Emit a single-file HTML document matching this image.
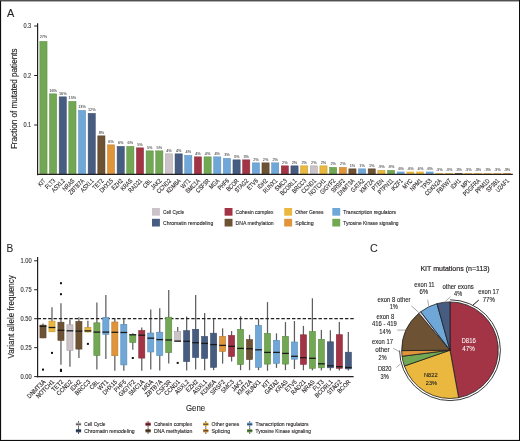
<!DOCTYPE html>
<html><head><meta charset="utf-8"><style>
html,body{margin:0;padding:0;background:#fff;}
svg{display:block;will-change:transform;}
</style></head><body>
<svg width="520" height="441" viewBox="0 0 520 441" font-family="Liberation Sans, sans-serif">
<rect x="0" y="0" width="520" height="441" fill="#fff"/>
<text x="6.90" y="16.60" font-size="11.2" text-anchor="start" fill="#231f20" stroke="#231f20" stroke-width="0.11"  textLength="7.30" lengthAdjust="spacingAndGlyphs">A</text>
<rect x="39.85" y="41.35" width="7.20" height="133.25" fill="#72a854" stroke="#5f8d46" stroke-width="0.5"/>
<text x="43.45" y="37.70" font-size="3.8" text-anchor="middle" fill="#3a3a3a" stroke="#3a3a3a" stroke-width="0.11" stroke-opacity="0.4">27%</text>
<text transform="translate(46.05,181.30) rotate(-45)" font-size="6.4" text-anchor="end" fill="#231f20" stroke="#231f20" stroke-width="0.1" textLength="8.01" lengthAdjust="spacingAndGlyphs">KIT</text>
<rect x="49.51" y="93.85" width="7.20" height="80.75" fill="#72a854" stroke="#5f8d46" stroke-width="0.5"/>
<text x="53.11" y="91.70" font-size="3.8" text-anchor="middle" fill="#3a3a3a" stroke="#3a3a3a" stroke-width="0.11" stroke-opacity="0.4">16%</text>
<text transform="translate(55.71,181.30) rotate(-45)" font-size="6.4" text-anchor="end" fill="#231f20" stroke="#231f20" stroke-width="0.1" textLength="11.64" lengthAdjust="spacingAndGlyphs">FLT3</text>
<rect x="59.16" y="96.85" width="7.20" height="77.75" fill="#465c80" stroke="#3a4d6b" stroke-width="0.5"/>
<text x="62.76" y="94.70" font-size="3.8" text-anchor="middle" fill="#3a3a3a" stroke="#3a3a3a" stroke-width="0.11" stroke-opacity="0.4">16%</text>
<text transform="translate(65.36,181.30) rotate(-45)" font-size="6.4" text-anchor="end" fill="#231f20" stroke="#231f20" stroke-width="0.1" textLength="16.04" lengthAdjust="spacingAndGlyphs">ASXL2</text>
<rect x="68.82" y="101.35" width="7.20" height="73.25" fill="#72a854" stroke="#5f8d46" stroke-width="0.5"/>
<text x="72.42" y="99.20" font-size="3.8" text-anchor="middle" fill="#3a3a3a" stroke="#3a3a3a" stroke-width="0.11" stroke-opacity="0.4">15%</text>
<text transform="translate(75.02,181.30) rotate(-45)" font-size="6.4" text-anchor="end" fill="#231f20" stroke="#231f20" stroke-width="0.1" textLength="14.31" lengthAdjust="spacingAndGlyphs">NRAS</text>
<rect x="78.47" y="110.35" width="7.20" height="64.25" fill="#6fa8d8" stroke="#5d8db5" stroke-width="0.5"/>
<text x="82.07" y="108.20" font-size="3.8" text-anchor="middle" fill="#3a3a3a" stroke="#3a3a3a" stroke-width="0.11" stroke-opacity="0.4">13%</text>
<text transform="translate(84.67,181.30) rotate(-45)" font-size="6.4" text-anchor="end" fill="#231f20" stroke="#231f20" stroke-width="0.1" textLength="19.47" lengthAdjust="spacingAndGlyphs">ZBTB7A</text>
<rect x="88.13" y="113.35" width="7.20" height="61.25" fill="#465c80" stroke="#3a4d6b" stroke-width="0.5"/>
<text x="91.73" y="111.20" font-size="3.8" text-anchor="middle" fill="#3a3a3a" stroke="#3a3a3a" stroke-width="0.11" stroke-opacity="0.4">12%</text>
<text transform="translate(94.33,181.30) rotate(-45)" font-size="6.4" text-anchor="end" fill="#231f20" stroke="#231f20" stroke-width="0.1" textLength="16.04" lengthAdjust="spacingAndGlyphs">ASXL1</text>
<rect x="97.79" y="135.85" width="7.20" height="38.75" fill="#6e5234" stroke="#5c442b" stroke-width="0.5"/>
<text x="101.39" y="133.70" font-size="3.8" text-anchor="middle" fill="#3a3a3a" stroke="#3a3a3a" stroke-width="0.11" stroke-opacity="0.4">8%</text>
<text transform="translate(103.99,181.30) rotate(-45)" font-size="6.4" text-anchor="end" fill="#231f20" stroke="#231f20" stroke-width="0.1" textLength="12.60" lengthAdjust="spacingAndGlyphs">TET2</text>
<rect x="107.44" y="144.85" width="7.20" height="29.75" fill="#e0953a" stroke="#bc7d30" stroke-width="0.5"/>
<text x="111.04" y="142.70" font-size="3.8" text-anchor="middle" fill="#3a3a3a" stroke="#3a3a3a" stroke-width="0.11" stroke-opacity="0.4">6%</text>
<text transform="translate(113.64,181.30) rotate(-45)" font-size="6.4" text-anchor="end" fill="#231f20" stroke="#231f20" stroke-width="0.1" textLength="16.61" lengthAdjust="spacingAndGlyphs">DHX15</text>
<rect x="117.10" y="146.35" width="7.20" height="28.25" fill="#465c80" stroke="#3a4d6b" stroke-width="0.5"/>
<text x="120.70" y="144.20" font-size="3.8" text-anchor="middle" fill="#3a3a3a" stroke="#3a3a3a" stroke-width="0.11" stroke-opacity="0.4">6%</text>
<text transform="translate(123.30,181.30) rotate(-45)" font-size="6.4" text-anchor="end" fill="#231f20" stroke="#231f20" stroke-width="0.1" textLength="13.17" lengthAdjust="spacingAndGlyphs">EZH2</text>
<rect x="126.75" y="146.35" width="7.20" height="28.25" fill="#72a854" stroke="#5f8d46" stroke-width="0.5"/>
<text x="130.35" y="144.20" font-size="3.8" text-anchor="middle" fill="#3a3a3a" stroke="#3a3a3a" stroke-width="0.11" stroke-opacity="0.4">6%</text>
<text transform="translate(132.95,181.30) rotate(-45)" font-size="6.4" text-anchor="end" fill="#231f20" stroke="#231f20" stroke-width="0.1" textLength="14.03" lengthAdjust="spacingAndGlyphs">KRAS</text>
<rect x="136.41" y="147.85" width="7.20" height="26.75" fill="#a33446" stroke="#882b3a" stroke-width="0.5"/>
<text x="140.01" y="145.70" font-size="3.8" text-anchor="middle" fill="#3a3a3a" stroke="#3a3a3a" stroke-width="0.11" stroke-opacity="0.4">5%</text>
<text transform="translate(142.61,181.30) rotate(-45)" font-size="6.4" text-anchor="end" fill="#231f20" stroke="#231f20" stroke-width="0.1" textLength="16.61" lengthAdjust="spacingAndGlyphs">RAD21</text>
<rect x="146.07" y="150.85" width="7.20" height="23.75" fill="#72a854" stroke="#5f8d46" stroke-width="0.5"/>
<text x="149.67" y="148.70" font-size="3.8" text-anchor="middle" fill="#3a3a3a" stroke="#3a3a3a" stroke-width="0.11" stroke-opacity="0.4">5%</text>
<text transform="translate(152.27,181.30) rotate(-45)" font-size="6.4" text-anchor="end" fill="#231f20" stroke="#231f20" stroke-width="0.1" textLength="10.02" lengthAdjust="spacingAndGlyphs">CBL</text>
<rect x="155.72" y="150.85" width="7.20" height="23.75" fill="#72a854" stroke="#5f8d46" stroke-width="0.5"/>
<text x="159.32" y="148.70" font-size="3.8" text-anchor="middle" fill="#3a3a3a" stroke="#3a3a3a" stroke-width="0.11" stroke-opacity="0.4">5%</text>
<text transform="translate(161.92,181.30) rotate(-45)" font-size="6.4" text-anchor="end" fill="#231f20" stroke="#231f20" stroke-width="0.1" textLength="12.31" lengthAdjust="spacingAndGlyphs">JAK2</text>
<rect x="165.38" y="153.85" width="7.20" height="20.75" fill="#cbc3c7" stroke="#aaa3a7" stroke-width="0.5"/>
<text x="168.98" y="151.70" font-size="3.8" text-anchor="middle" fill="#3a3a3a" stroke="#3a3a3a" stroke-width="0.11" stroke-opacity="0.4">4%</text>
<text transform="translate(171.58,181.30) rotate(-45)" font-size="6.4" text-anchor="end" fill="#231f20" stroke="#231f20" stroke-width="0.1" textLength="17.75" lengthAdjust="spacingAndGlyphs">CCND2</text>
<rect x="175.03" y="153.85" width="7.20" height="20.75" fill="#465c80" stroke="#3a4d6b" stroke-width="0.5"/>
<text x="178.63" y="151.70" font-size="3.8" text-anchor="middle" fill="#3a3a3a" stroke="#3a3a3a" stroke-width="0.11" stroke-opacity="0.4">4%</text>
<text transform="translate(181.23,181.30) rotate(-45)" font-size="6.4" text-anchor="end" fill="#231f20" stroke="#231f20" stroke-width="0.1" textLength="17.75" lengthAdjust="spacingAndGlyphs">KDM6A</text>
<rect x="184.69" y="155.35" width="7.20" height="19.25" fill="#6fa8d8" stroke="#5d8db5" stroke-width="0.5"/>
<text x="188.29" y="153.20" font-size="3.8" text-anchor="middle" fill="#3a3a3a" stroke="#3a3a3a" stroke-width="0.11" stroke-opacity="0.4">4%</text>
<text transform="translate(190.89,181.30) rotate(-45)" font-size="6.4" text-anchor="end" fill="#231f20" stroke="#231f20" stroke-width="0.1" textLength="10.87" lengthAdjust="spacingAndGlyphs">WT1</text>
<rect x="194.35" y="156.85" width="7.20" height="17.75" fill="#a33446" stroke="#882b3a" stroke-width="0.5"/>
<text x="197.95" y="154.70" font-size="3.8" text-anchor="middle" fill="#3a3a3a" stroke="#3a3a3a" stroke-width="0.11" stroke-opacity="0.4">4%</text>
<text transform="translate(200.55,181.30) rotate(-45)" font-size="6.4" text-anchor="end" fill="#231f20" stroke="#231f20" stroke-width="0.1" textLength="17.75" lengthAdjust="spacingAndGlyphs">SMC1A</text>
<rect x="204.00" y="156.85" width="7.20" height="17.75" fill="#72a854" stroke="#5f8d46" stroke-width="0.5"/>
<text x="207.60" y="154.70" font-size="3.8" text-anchor="middle" fill="#3a3a3a" stroke="#3a3a3a" stroke-width="0.11" stroke-opacity="0.4">4%</text>
<text transform="translate(210.20,181.30) rotate(-45)" font-size="6.4" text-anchor="end" fill="#231f20" stroke="#231f20" stroke-width="0.1" textLength="16.89" lengthAdjust="spacingAndGlyphs">CSF3R</text>
<rect x="213.66" y="156.85" width="7.20" height="17.75" fill="#6fa8d8" stroke="#5d8db5" stroke-width="0.5"/>
<text x="217.26" y="154.70" font-size="3.8" text-anchor="middle" fill="#3a3a3a" stroke="#3a3a3a" stroke-width="0.11" stroke-opacity="0.4">4%</text>
<text transform="translate(219.86,181.30) rotate(-45)" font-size="6.4" text-anchor="end" fill="#231f20" stroke="#231f20" stroke-width="0.1" textLength="11.74" lengthAdjust="spacingAndGlyphs">MGA</text>
<rect x="223.31" y="158.35" width="7.20" height="16.25" fill="#6fa8d8" stroke="#5d8db5" stroke-width="0.5"/>
<text x="226.91" y="156.20" font-size="3.8" text-anchor="middle" fill="#3a3a3a" stroke="#3a3a3a" stroke-width="0.11" stroke-opacity="0.4">3%</text>
<text transform="translate(229.51,181.30) rotate(-45)" font-size="6.4" text-anchor="end" fill="#231f20" stroke="#231f20" stroke-width="0.1" textLength="13.17" lengthAdjust="spacingAndGlyphs">PHF6</text>
<rect x="232.97" y="159.85" width="7.20" height="14.75" fill="#465c80" stroke="#3a4d6b" stroke-width="0.5"/>
<text x="236.57" y="157.70" font-size="3.8" text-anchor="middle" fill="#3a3a3a" stroke="#3a3a3a" stroke-width="0.11" stroke-opacity="0.4">3%</text>
<text transform="translate(239.17,181.30) rotate(-45)" font-size="6.4" text-anchor="end" fill="#231f20" stroke="#231f20" stroke-width="0.1" textLength="14.89" lengthAdjust="spacingAndGlyphs">BCOR</text>
<rect x="242.63" y="159.85" width="7.20" height="14.75" fill="#a33446" stroke="#882b3a" stroke-width="0.5"/>
<text x="246.23" y="157.70" font-size="3.8" text-anchor="middle" fill="#3a3a3a" stroke="#3a3a3a" stroke-width="0.11" stroke-opacity="0.4">3%</text>
<text transform="translate(248.83,181.30) rotate(-45)" font-size="6.4" text-anchor="end" fill="#231f20" stroke="#231f20" stroke-width="0.1" textLength="16.51" lengthAdjust="spacingAndGlyphs">STAG2</text>
<rect x="252.28" y="162.85" width="7.20" height="11.75" fill="#6fa8d8" stroke="#5d8db5" stroke-width="0.5"/>
<text x="255.88" y="160.70" font-size="3.8" text-anchor="middle" fill="#3a3a3a" stroke="#3a3a3a" stroke-width="0.11" stroke-opacity="0.4">2%</text>
<text transform="translate(258.48,181.30) rotate(-45)" font-size="6.4" text-anchor="end" fill="#231f20" stroke="#231f20" stroke-width="0.1" textLength="12.88" lengthAdjust="spacingAndGlyphs">ETV6</text>
<rect x="261.94" y="162.85" width="7.20" height="11.75" fill="#6e5234" stroke="#5c442b" stroke-width="0.5"/>
<text x="265.54" y="160.70" font-size="3.8" text-anchor="middle" fill="#3a3a3a" stroke="#3a3a3a" stroke-width="0.11" stroke-opacity="0.4">2%</text>
<text transform="translate(268.14,181.30) rotate(-45)" font-size="6.4" text-anchor="end" fill="#231f20" stroke="#231f20" stroke-width="0.1" textLength="11.74" lengthAdjust="spacingAndGlyphs">IDH2</text>
<rect x="271.59" y="162.85" width="7.20" height="11.75" fill="#6fa8d8" stroke="#5d8db5" stroke-width="0.5"/>
<text x="275.19" y="160.70" font-size="3.8" text-anchor="middle" fill="#3a3a3a" stroke="#3a3a3a" stroke-width="0.11" stroke-opacity="0.4">2%</text>
<text transform="translate(277.79,181.30) rotate(-45)" font-size="6.4" text-anchor="end" fill="#231f20" stroke="#231f20" stroke-width="0.1" textLength="17.46" lengthAdjust="spacingAndGlyphs">RUNX1</text>
<rect x="281.25" y="165.85" width="7.20" height="8.75" fill="#a33446" stroke="#882b3a" stroke-width="0.5"/>
<text x="284.85" y="163.70" font-size="3.8" text-anchor="middle" fill="#3a3a3a" stroke="#3a3a3a" stroke-width="0.11" stroke-opacity="0.4">2%</text>
<text transform="translate(287.45,181.30) rotate(-45)" font-size="6.4" text-anchor="end" fill="#231f20" stroke="#231f20" stroke-width="0.1" textLength="14.31" lengthAdjust="spacingAndGlyphs">SMC3</text>
<rect x="290.91" y="165.85" width="7.20" height="8.75" fill="#465c80" stroke="#3a4d6b" stroke-width="0.5"/>
<text x="294.51" y="163.70" font-size="3.8" text-anchor="middle" fill="#3a3a3a" stroke="#3a3a3a" stroke-width="0.11" stroke-opacity="0.4">2%</text>
<text transform="translate(297.11,181.30) rotate(-45)" font-size="6.4" text-anchor="end" fill="#231f20" stroke="#231f20" stroke-width="0.1" textLength="20.62" lengthAdjust="spacingAndGlyphs">BCORL1</text>
<rect x="300.56" y="165.85" width="7.20" height="8.75" fill="#eab83e" stroke="#c49a34" stroke-width="0.5"/>
<text x="304.16" y="163.70" font-size="3.8" text-anchor="middle" fill="#3a3a3a" stroke="#3a3a3a" stroke-width="0.11" stroke-opacity="0.4">2%</text>
<text transform="translate(306.76,181.30) rotate(-45)" font-size="6.4" text-anchor="end" fill="#231f20" stroke="#231f20" stroke-width="0.1" textLength="17.46" lengthAdjust="spacingAndGlyphs">BRCC3</text>
<rect x="310.22" y="165.85" width="7.20" height="8.75" fill="#cbc3c7" stroke="#aaa3a7" stroke-width="0.5"/>
<text x="313.82" y="163.70" font-size="3.8" text-anchor="middle" fill="#3a3a3a" stroke="#3a3a3a" stroke-width="0.11" stroke-opacity="0.4">2%</text>
<text transform="translate(316.42,181.30) rotate(-45)" font-size="6.4" text-anchor="end" fill="#231f20" stroke="#231f20" stroke-width="0.1" textLength="17.75" lengthAdjust="spacingAndGlyphs">CCND1</text>
<rect x="319.87" y="165.85" width="7.20" height="8.75" fill="#eab83e" stroke="#c49a34" stroke-width="0.5"/>
<text x="323.47" y="163.70" font-size="3.8" text-anchor="middle" fill="#3a3a3a" stroke="#3a3a3a" stroke-width="0.11" stroke-opacity="0.4">2%</text>
<text transform="translate(326.07,181.30) rotate(-45)" font-size="6.4" text-anchor="end" fill="#231f20" stroke="#231f20" stroke-width="0.1" textLength="21.18" lengthAdjust="spacingAndGlyphs">NOTCH1</text>
<rect x="329.53" y="167.35" width="7.20" height="7.25" fill="#72a854" stroke="#5f8d46" stroke-width="0.5"/>
<text x="333.13" y="165.20" font-size="3.8" text-anchor="middle" fill="#3a3a3a" stroke="#3a3a3a" stroke-width="0.11" stroke-opacity="0.4">2%</text>
<text transform="translate(335.73,181.30) rotate(-45)" font-size="6.4" text-anchor="end" fill="#231f20" stroke="#231f20" stroke-width="0.1" textLength="18.89" lengthAdjust="spacingAndGlyphs">GIGYF2</text>
<rect x="339.19" y="167.35" width="7.20" height="7.25" fill="#e0953a" stroke="#bc7d30" stroke-width="0.5"/>
<text x="342.79" y="165.20" font-size="3.8" text-anchor="middle" fill="#3a3a3a" stroke="#3a3a3a" stroke-width="0.11" stroke-opacity="0.4">2%</text>
<text transform="translate(345.39,181.30) rotate(-45)" font-size="6.4" text-anchor="end" fill="#231f20" stroke="#231f20" stroke-width="0.1" textLength="16.61" lengthAdjust="spacingAndGlyphs">SRSF2</text>
<rect x="348.84" y="168.85" width="7.20" height="5.75" fill="#6e5234" stroke="#5c442b" stroke-width="0.5"/>
<text x="352.44" y="166.70" font-size="3.8" text-anchor="middle" fill="#3a3a3a" stroke="#3a3a3a" stroke-width="0.11" stroke-opacity="0.4">1%</text>
<text transform="translate(355.04,181.30) rotate(-45)" font-size="6.4" text-anchor="end" fill="#231f20" stroke="#231f20" stroke-width="0.1" textLength="21.18" lengthAdjust="spacingAndGlyphs">DNMT3A</text>
<rect x="358.50" y="168.85" width="7.20" height="5.75" fill="#6fa8d8" stroke="#5d8db5" stroke-width="0.5"/>
<text x="362.10" y="166.70" font-size="3.8" text-anchor="middle" fill="#3a3a3a" stroke="#3a3a3a" stroke-width="0.11" stroke-opacity="0.4">1%</text>
<text transform="translate(364.70,181.30) rotate(-45)" font-size="6.4" text-anchor="end" fill="#231f20" stroke="#231f20" stroke-width="0.1" textLength="16.13" lengthAdjust="spacingAndGlyphs">GATA2</text>
<rect x="368.15" y="168.85" width="7.20" height="5.75" fill="#6e5234" stroke="#5c442b" stroke-width="0.5"/>
<text x="371.75" y="166.70" font-size="3.8" text-anchor="middle" fill="#3a3a3a" stroke="#3a3a3a" stroke-width="0.11" stroke-opacity="0.4">1%</text>
<text transform="translate(374.35,181.30) rotate(-45)" font-size="6.4" text-anchor="end" fill="#231f20" stroke="#231f20" stroke-width="0.1" textLength="17.18" lengthAdjust="spacingAndGlyphs">KMT2A</text>
<rect x="377.81" y="170.35" width="7.20" height="4.25" fill="#eab83e" stroke="#c49a34" stroke-width="0.5"/>
<text x="381.41" y="168.20" font-size="3.8" text-anchor="middle" fill="#3a3a3a" stroke="#3a3a3a" stroke-width="0.11" stroke-opacity="0.4">.9%</text>
<text transform="translate(384.01,181.30) rotate(-45)" font-size="6.4" text-anchor="end" fill="#231f20" stroke="#231f20" stroke-width="0.1" textLength="13.74" lengthAdjust="spacingAndGlyphs">PTEN</text>
<rect x="387.47" y="170.35" width="7.20" height="4.25" fill="#72a854" stroke="#5f8d46" stroke-width="0.5"/>
<text x="391.07" y="168.20" font-size="3.8" text-anchor="middle" fill="#3a3a3a" stroke="#3a3a3a" stroke-width="0.11" stroke-opacity="0.4">.9%</text>
<text transform="translate(393.67,181.30) rotate(-45)" font-size="6.4" text-anchor="end" fill="#231f20" stroke="#231f20" stroke-width="0.1" textLength="19.09" lengthAdjust="spacingAndGlyphs">PTPN11</text>
<rect x="396.87" y="171.60" width="7.70" height="3.00" fill="#6fa8d8"/>
<text x="400.72" y="169.70" font-size="3.8" text-anchor="middle" fill="#3a3a3a" stroke="#3a3a3a" stroke-width="0.11" stroke-opacity="0.4">.6%</text>
<text transform="translate(403.32,181.30) rotate(-45)" font-size="6.4" text-anchor="end" fill="#231f20" stroke="#231f20" stroke-width="0.1" textLength="14.03" lengthAdjust="spacingAndGlyphs">IKZF1</text>
<rect x="406.53" y="171.60" width="7.70" height="3.00" fill="#eab83e"/>
<text x="410.38" y="169.70" font-size="3.8" text-anchor="middle" fill="#3a3a3a" stroke="#3a3a3a" stroke-width="0.11" stroke-opacity="0.4">.6%</text>
<text transform="translate(412.98,181.30) rotate(-45)" font-size="6.4" text-anchor="end" fill="#231f20" stroke="#231f20" stroke-width="0.1" textLength="11.45" lengthAdjust="spacingAndGlyphs">MYC</text>
<rect x="416.18" y="171.60" width="7.70" height="3.00" fill="#eab83e"/>
<text x="420.03" y="169.70" font-size="3.8" text-anchor="middle" fill="#3a3a3a" stroke="#3a3a3a" stroke-width="0.11" stroke-opacity="0.4">.6%</text>
<text transform="translate(422.63,181.30) rotate(-45)" font-size="6.4" text-anchor="end" fill="#231f20" stroke="#231f20" stroke-width="0.1" textLength="14.31" lengthAdjust="spacingAndGlyphs">NPM1</text>
<rect x="425.84" y="171.60" width="7.70" height="3.00" fill="#6fa8d8"/>
<text x="429.69" y="169.70" font-size="3.8" text-anchor="middle" fill="#3a3a3a" stroke="#3a3a3a" stroke-width="0.11" stroke-opacity="0.4">.6%</text>
<text transform="translate(432.29,181.30) rotate(-45)" font-size="6.4" text-anchor="end" fill="#231f20" stroke="#231f20" stroke-width="0.1" textLength="12.31" lengthAdjust="spacingAndGlyphs">TP53</text>
<rect x="435.50" y="173.10" width="7.70" height="1.50" fill="#eab83e"/>
<text x="439.35" y="171.20" font-size="3.8" text-anchor="middle" fill="#3a3a3a" stroke="#3a3a3a" stroke-width="0.11" stroke-opacity="0.4">.3%</text>
<text transform="translate(441.95,181.30) rotate(-45)" font-size="6.4" text-anchor="end" fill="#231f20" stroke="#231f20" stroke-width="0.1" textLength="20.90" lengthAdjust="spacingAndGlyphs">CDKN2A</text>
<rect x="445.15" y="173.10" width="7.70" height="1.50" fill="#eab83e"/>
<text x="449.00" y="171.20" font-size="3.8" text-anchor="middle" fill="#3a3a3a" stroke="#3a3a3a" stroke-width="0.11" stroke-opacity="0.4">.3%</text>
<text transform="translate(451.60,181.30) rotate(-45)" font-size="6.4" text-anchor="end" fill="#231f20" stroke="#231f20" stroke-width="0.1" textLength="17.75" lengthAdjust="spacingAndGlyphs">FBXW7</text>
<rect x="454.81" y="173.10" width="7.70" height="1.50" fill="#6e5234"/>
<text x="458.66" y="171.20" font-size="3.8" text-anchor="middle" fill="#3a3a3a" stroke="#3a3a3a" stroke-width="0.11" stroke-opacity="0.4">.3%</text>
<text transform="translate(461.26,181.30) rotate(-45)" font-size="6.4" text-anchor="end" fill="#231f20" stroke="#231f20" stroke-width="0.1" textLength="11.74" lengthAdjust="spacingAndGlyphs">IDH1</text>
<rect x="464.46" y="173.10" width="7.70" height="1.50" fill="#eab83e"/>
<text x="468.31" y="171.20" font-size="3.8" text-anchor="middle" fill="#3a3a3a" stroke="#3a3a3a" stroke-width="0.11" stroke-opacity="0.4">.3%</text>
<text transform="translate(470.91,181.30) rotate(-45)" font-size="6.4" text-anchor="end" fill="#231f20" stroke="#231f20" stroke-width="0.1" textLength="10.59" lengthAdjust="spacingAndGlyphs">MPL</text>
<rect x="474.12" y="173.10" width="7.70" height="1.50" fill="#eab83e"/>
<text x="477.97" y="171.20" font-size="3.8" text-anchor="middle" fill="#3a3a3a" stroke="#3a3a3a" stroke-width="0.11" stroke-opacity="0.4">.3%</text>
<text transform="translate(480.57,181.30) rotate(-45)" font-size="6.4" text-anchor="end" fill="#231f20" stroke="#231f20" stroke-width="0.1" textLength="21.47" lengthAdjust="spacingAndGlyphs">PDGFRA</text>
<rect x="483.78" y="173.10" width="7.70" height="1.50" fill="#eab83e"/>
<text x="487.63" y="171.20" font-size="3.8" text-anchor="middle" fill="#3a3a3a" stroke="#3a3a3a" stroke-width="0.11" stroke-opacity="0.4">.3%</text>
<text transform="translate(490.23,181.30) rotate(-45)" font-size="6.4" text-anchor="end" fill="#231f20" stroke="#231f20" stroke-width="0.1" textLength="17.75" lengthAdjust="spacingAndGlyphs">PPM1D</text>
<rect x="493.43" y="173.10" width="7.70" height="1.50" fill="#eab83e"/>
<text x="497.28" y="171.20" font-size="3.8" text-anchor="middle" fill="#3a3a3a" stroke="#3a3a3a" stroke-width="0.11" stroke-opacity="0.4">.3%</text>
<text transform="translate(499.88,181.30) rotate(-45)" font-size="6.4" text-anchor="end" fill="#231f20" stroke="#231f20" stroke-width="0.1" textLength="15.75" lengthAdjust="spacingAndGlyphs">SF3B1</text>
<rect x="503.09" y="173.10" width="7.70" height="1.50" fill="#e0953a"/>
<text x="506.94" y="171.20" font-size="3.8" text-anchor="middle" fill="#3a3a3a" stroke="#3a3a3a" stroke-width="0.11" stroke-opacity="0.4">.3%</text>
<text transform="translate(509.54,181.30) rotate(-45)" font-size="6.4" text-anchor="end" fill="#231f20" stroke="#231f20" stroke-width="0.1" textLength="16.03" lengthAdjust="spacingAndGlyphs">U2AF1</text>
<line x1="37.6" y1="23.2" x2="37.6" y2="175.2" stroke="#231f20" stroke-width="1.2"/>
<line x1="37" y1="174.4" x2="512.8" y2="174.4" stroke="#231f20" stroke-width="1.3"/>
<line x1="34.2" y1="26.0" x2="37.6" y2="26.0" stroke="#231f20" stroke-width="1"/>
<text x="31.20" y="28.40" font-size="6.8" text-anchor="end" fill="#333" stroke="#333" stroke-width="0.11"  textLength="7.80" lengthAdjust="spacingAndGlyphs">0.3</text>
<line x1="34.2" y1="75.5" x2="37.6" y2="75.5" stroke="#231f20" stroke-width="1"/>
<text x="31.20" y="77.90" font-size="6.8" text-anchor="end" fill="#333" stroke="#333" stroke-width="0.11"  textLength="7.80" lengthAdjust="spacingAndGlyphs">0.2</text>
<line x1="34.2" y1="125.0" x2="37.6" y2="125.0" stroke="#231f20" stroke-width="1"/>
<text x="31.20" y="127.40" font-size="6.8" text-anchor="end" fill="#333" stroke="#333" stroke-width="0.11"  textLength="7.80" lengthAdjust="spacingAndGlyphs">0.1</text>
<text transform="translate(17.2,98.8) rotate(-90)" font-size="9.2" text-anchor="middle" fill="#231f20" stroke="#231f20" stroke-width="0.15" textLength="100.6" lengthAdjust="spacingAndGlyphs">Fraction of mutated patients</text>
<rect x="152" y="208" width="7.9" height="7.7" fill="#cbc3c7"/>
<text x="163.00" y="213.80" font-size="5.4" text-anchor="start" fill="#231f20" stroke="#231f20" stroke-width="0.11"  textLength="21.10" lengthAdjust="spacingAndGlyphs">Cell Cycle</text>
<rect x="152" y="218.8" width="7.9" height="7.7" fill="#465c80"/>
<text x="163.00" y="224.60" font-size="5.4" text-anchor="start" fill="#231f20" stroke="#231f20" stroke-width="0.11"  textLength="50.30" lengthAdjust="spacingAndGlyphs">Chromatin remodeling</text>
<rect x="224.6" y="208" width="7.9" height="7.7" fill="#a33446"/>
<text x="235.60" y="213.80" font-size="5.4" text-anchor="start" fill="#231f20" stroke="#231f20" stroke-width="0.11"  textLength="37.90" lengthAdjust="spacingAndGlyphs">Cohesin complex</text>
<rect x="224.6" y="218.8" width="7.9" height="7.7" fill="#6e5234"/>
<text x="235.60" y="224.60" font-size="5.4" text-anchor="start" fill="#231f20" stroke="#231f20" stroke-width="0.11"  textLength="38.00" lengthAdjust="spacingAndGlyphs">DNA methylation</text>
<rect x="284.2" y="208" width="7.9" height="7.7" fill="#eab83e"/>
<text x="295.20" y="213.80" font-size="5.4" text-anchor="start" fill="#231f20" stroke="#231f20" stroke-width="0.11"  textLength="28.30" lengthAdjust="spacingAndGlyphs">Other Genes</text>
<rect x="284.2" y="218.8" width="7.9" height="7.7" fill="#e0953a"/>
<text x="295.20" y="224.60" font-size="5.4" text-anchor="start" fill="#231f20" stroke="#231f20" stroke-width="0.11"  textLength="18.50" lengthAdjust="spacingAndGlyphs">Splicing</text>
<rect x="332.3" y="208" width="7.9" height="7.7" fill="#6fa8d8"/>
<text x="343.30" y="213.80" font-size="5.4" text-anchor="start" fill="#231f20" stroke="#231f20" stroke-width="0.11"  textLength="52.80" lengthAdjust="spacingAndGlyphs">Transcription regulators</text>
<rect x="332.3" y="218.8" width="7.9" height="7.7" fill="#72a854"/>
<text x="343.30" y="224.60" font-size="5.4" text-anchor="start" fill="#231f20" stroke="#231f20" stroke-width="0.11"  textLength="55.30" lengthAdjust="spacingAndGlyphs">Tyrosine Kinase signaling</text>
<text x="6.60" y="251.80" font-size="10.2" text-anchor="start" fill="#231f20" stroke="#231f20" stroke-width="0.11" style="stroke-width:0.06">B</text>
<line x1="43.00" y1="323.6" x2="43.00" y2="338.2" stroke="#5e5e5e" stroke-width="1.25"/>
<line x1="51.98" y1="307.2" x2="51.98" y2="332.1" stroke="#5e5e5e" stroke-width="1.25"/>
<line x1="60.96" y1="303.3" x2="60.96" y2="364.8" stroke="#5e5e5e" stroke-width="1.25"/>
<line x1="69.94" y1="319.4" x2="69.94" y2="366.7" stroke="#5e5e5e" stroke-width="1.25"/>
<line x1="78.92" y1="317.3" x2="78.92" y2="358.1" stroke="#5e5e5e" stroke-width="1.25"/>
<line x1="87.90" y1="320.8" x2="87.90" y2="332.3" stroke="#5e5e5e" stroke-width="1.25"/>
<line x1="96.88" y1="302.4" x2="96.88" y2="369.4" stroke="#5e5e5e" stroke-width="1.25"/>
<line x1="105.86" y1="295.0" x2="105.86" y2="359.0" stroke="#5e5e5e" stroke-width="1.25"/>
<line x1="114.84" y1="318.2" x2="114.84" y2="370.8" stroke="#5e5e5e" stroke-width="1.25"/>
<line x1="123.82" y1="318.5" x2="123.82" y2="370.8" stroke="#5e5e5e" stroke-width="1.25"/>
<line x1="132.80" y1="333.2" x2="132.80" y2="349.8" stroke="#5e5e5e" stroke-width="1.25"/>
<line x1="141.78" y1="327.5" x2="141.78" y2="370.8" stroke="#5e5e5e" stroke-width="1.25"/>
<line x1="150.76" y1="309.4" x2="150.76" y2="369.6" stroke="#5e5e5e" stroke-width="1.25"/>
<line x1="159.74" y1="308.2" x2="159.74" y2="370.5" stroke="#5e5e5e" stroke-width="1.25"/>
<line x1="168.72" y1="290.1" x2="168.72" y2="363.6" stroke="#5e5e5e" stroke-width="1.25"/>
<line x1="177.70" y1="326.9" x2="177.70" y2="341.7" stroke="#5e5e5e" stroke-width="1.25"/>
<line x1="186.68" y1="316.5" x2="186.68" y2="370.5" stroke="#5e5e5e" stroke-width="1.25"/>
<line x1="195.66" y1="295.0" x2="195.66" y2="369.6" stroke="#5e5e5e" stroke-width="1.25"/>
<line x1="204.64" y1="313.1" x2="204.64" y2="370.2" stroke="#5e5e5e" stroke-width="1.25"/>
<line x1="213.62" y1="319.1" x2="213.62" y2="370.2" stroke="#5e5e5e" stroke-width="1.25"/>
<line x1="222.60" y1="328.4" x2="222.60" y2="363.6" stroke="#5e5e5e" stroke-width="1.25"/>
<line x1="231.58" y1="331.0" x2="231.58" y2="361.5" stroke="#5e5e5e" stroke-width="1.25"/>
<line x1="240.56" y1="316.3" x2="240.56" y2="370.2" stroke="#5e5e5e" stroke-width="1.25"/>
<line x1="249.54" y1="334.8" x2="249.54" y2="370.2" stroke="#5e5e5e" stroke-width="1.25"/>
<line x1="258.52" y1="318.7" x2="258.52" y2="370.2" stroke="#5e5e5e" stroke-width="1.25"/>
<line x1="267.50" y1="302.1" x2="267.50" y2="370.8" stroke="#5e5e5e" stroke-width="1.25"/>
<line x1="276.48" y1="333.4" x2="276.48" y2="367.9" stroke="#5e5e5e" stroke-width="1.25"/>
<line x1="285.46" y1="322.1" x2="285.46" y2="370.2" stroke="#5e5e5e" stroke-width="1.25"/>
<line x1="294.44" y1="321.0" x2="294.44" y2="369.0" stroke="#5e5e5e" stroke-width="1.25"/>
<line x1="303.42" y1="325.9" x2="303.42" y2="370.3" stroke="#5e5e5e" stroke-width="1.25"/>
<line x1="312.40" y1="298.3" x2="312.40" y2="370.4" stroke="#5e5e5e" stroke-width="1.25"/>
<line x1="321.38" y1="330.0" x2="321.38" y2="370.4" stroke="#5e5e5e" stroke-width="1.25"/>
<line x1="330.36" y1="330.2" x2="330.36" y2="370.4" stroke="#5e5e5e" stroke-width="1.25"/>
<line x1="339.34" y1="321.9" x2="339.34" y2="370.4" stroke="#5e5e5e" stroke-width="1.25"/>
<line x1="348.32" y1="332.1" x2="348.32" y2="370.4" stroke="#5e5e5e" stroke-width="1.25"/>
<line x1="37.6" y1="318.7" x2="355" y2="318.7" stroke="#231f20" stroke-width="1.3" stroke-dasharray="3.4 1.9"/>
<rect x="39.95" y="325.10" width="6.10" height="12.80" fill="#6e5234" stroke="#5a432a" stroke-width="0.6"/>
<line x1="39.65" y1="326.3" x2="46.35" y2="326.3" stroke="#1a1a1a" stroke-width="1.3"/>
<rect x="42.00" y="368.60" width="2" height="2" fill="#111"/>
<text transform="translate(45.80,382.40) rotate(-45)" font-size="6.4" text-anchor="end" fill="#231f20" stroke="#231f20" stroke-width="0.1" textLength="23.02" lengthAdjust="spacingAndGlyphs">DNMT3A</text>
<rect x="48.93" y="321.10" width="6.10" height="10.70" fill="#eab83e" stroke="#bf9632" stroke-width="0.6"/>
<line x1="48.63" y1="327.5" x2="55.33" y2="327.5" stroke="#1a1a1a" stroke-width="1.3"/>
<rect x="50.98" y="351.90" width="2" height="2" fill="#111"/>
<text transform="translate(54.78,382.40) rotate(-45)" font-size="6.4" text-anchor="end" fill="#231f20" stroke="#231f20" stroke-width="0.1" textLength="23.02" lengthAdjust="spacingAndGlyphs">NOTCH1</text>
<rect x="57.91" y="322.20" width="6.10" height="18.10" fill="#6e5234" stroke="#5a432a" stroke-width="0.6"/>
<line x1="57.61" y1="330.3" x2="64.31" y2="330.3" stroke="#1a1a1a" stroke-width="1.3"/>
<rect x="59.96" y="282.20" width="2" height="2" fill="#111"/>
<rect x="59.96" y="293.20" width="2" height="2" fill="#111"/>
<rect x="59.96" y="368.80" width="2" height="2" fill="#111"/>
<rect x="59.96" y="370.00" width="2" height="2" fill="#111"/>
<text transform="translate(63.76,382.40) rotate(-45)" font-size="6.4" text-anchor="end" fill="#231f20" stroke="#231f20" stroke-width="0.1" textLength="13.69" lengthAdjust="spacingAndGlyphs">TET2</text>
<rect x="66.89" y="324.80" width="6.10" height="25.50" fill="#cbc3c7" stroke="#a69fa3" stroke-width="0.6"/>
<line x1="66.59" y1="330.8" x2="73.29" y2="330.8" stroke="#1a1a1a" stroke-width="1.3"/>
<text transform="translate(72.74,382.40) rotate(-45)" font-size="6.4" text-anchor="end" fill="#231f20" stroke="#231f20" stroke-width="0.1" textLength="19.29" lengthAdjust="spacingAndGlyphs">CCND2</text>
<rect x="75.87" y="321.40" width="6.10" height="27.70" fill="#6e5234" stroke="#5a432a" stroke-width="0.6"/>
<line x1="75.57" y1="331.1" x2="82.27" y2="331.1" stroke="#1a1a1a" stroke-width="1.3"/>
<text transform="translate(81.72,382.40) rotate(-45)" font-size="6.4" text-anchor="end" fill="#231f20" stroke="#231f20" stroke-width="0.1" textLength="12.76" lengthAdjust="spacingAndGlyphs">IDH2</text>
<rect x="84.85" y="327.40" width="6.10" height="4.60" fill="#eab83e" stroke="#bf9632" stroke-width="0.6"/>
<line x1="84.55" y1="330.9" x2="91.25" y2="330.9" stroke="#1a1a1a" stroke-width="1.3"/>
<rect x="86.90" y="342.90" width="2" height="2" fill="#111"/>
<text transform="translate(90.70,382.40) rotate(-45)" font-size="6.4" text-anchor="end" fill="#231f20" stroke="#231f20" stroke-width="0.1" textLength="18.98" lengthAdjust="spacingAndGlyphs">BRCC3</text>
<rect x="93.83" y="322.80" width="6.10" height="32.70" fill="#72a854" stroke="#5d8944" stroke-width="0.6"/>
<line x1="93.53" y1="332.1" x2="100.23" y2="332.1" stroke="#1a1a1a" stroke-width="1.3"/>
<text transform="translate(99.68,382.40) rotate(-45)" font-size="6.4" text-anchor="end" fill="#231f20" stroke="#231f20" stroke-width="0.1" textLength="10.89" lengthAdjust="spacingAndGlyphs">CBL</text>
<rect x="102.81" y="317.40" width="6.10" height="16.90" fill="#6fa8d8" stroke="#5b89b1" stroke-width="0.6"/>
<line x1="102.51" y1="332.1" x2="109.21" y2="332.1" stroke="#1a1a1a" stroke-width="1.3"/>
<text transform="translate(108.66,382.40) rotate(-45)" font-size="6.4" text-anchor="end" fill="#231f20" stroke="#231f20" stroke-width="0.1" textLength="11.82" lengthAdjust="spacingAndGlyphs">WT1</text>
<rect x="111.79" y="322.00" width="6.10" height="33.70" fill="#e0953a" stroke="#b77a2f" stroke-width="0.6"/>
<line x1="111.49" y1="332.3" x2="118.19" y2="332.3" stroke="#1a1a1a" stroke-width="1.3"/>
<text transform="translate(117.64,382.40) rotate(-45)" font-size="6.4" text-anchor="end" fill="#231f20" stroke="#231f20" stroke-width="0.1" textLength="18.05" lengthAdjust="spacingAndGlyphs">DHX15</text>
<rect x="120.77" y="324.30" width="6.10" height="40.60" fill="#6fa8d8" stroke="#5b89b1" stroke-width="0.6"/>
<line x1="120.47" y1="332.5" x2="127.17" y2="332.5" stroke="#1a1a1a" stroke-width="1.3"/>
<text transform="translate(126.62,382.40) rotate(-45)" font-size="6.4" text-anchor="end" fill="#231f20" stroke="#231f20" stroke-width="0.1" textLength="14.31" lengthAdjust="spacingAndGlyphs">PHF6</text>
<rect x="129.75" y="334.30" width="6.10" height="8.20" fill="#72a854" stroke="#5d8944" stroke-width="0.6"/>
<line x1="129.45" y1="334.8" x2="136.15" y2="334.8" stroke="#1a1a1a" stroke-width="1.3"/>
<rect x="131.80" y="357.00" width="2" height="2" fill="#111"/>
<text transform="translate(135.60,382.40) rotate(-45)" font-size="6.4" text-anchor="end" fill="#231f20" stroke="#231f20" stroke-width="0.1" textLength="20.54" lengthAdjust="spacingAndGlyphs">GIGYF2</text>
<rect x="138.73" y="330.50" width="6.10" height="27.60" fill="#a33446" stroke="#852a39" stroke-width="0.6"/>
<line x1="138.43" y1="335.2" x2="145.13" y2="335.2" stroke="#1a1a1a" stroke-width="1.3"/>
<text transform="translate(144.58,382.40) rotate(-45)" font-size="6.4" text-anchor="end" fill="#231f20" stroke="#231f20" stroke-width="0.1" textLength="19.29" lengthAdjust="spacingAndGlyphs">SMC1A</text>
<rect x="147.71" y="333.00" width="6.10" height="19.00" fill="#6fa8d8" stroke="#5b89b1" stroke-width="0.6"/>
<line x1="147.41" y1="338.2" x2="154.11" y2="338.2" stroke="#1a1a1a" stroke-width="1.3"/>
<text transform="translate(153.56,382.40) rotate(-45)" font-size="6.4" text-anchor="end" fill="#231f20" stroke="#231f20" stroke-width="0.1" textLength="12.76" lengthAdjust="spacingAndGlyphs">MGA</text>
<rect x="156.69" y="332.20" width="6.10" height="23.30" fill="#6fa8d8" stroke="#5b89b1" stroke-width="0.6"/>
<line x1="156.39" y1="339.6" x2="163.09" y2="339.6" stroke="#1a1a1a" stroke-width="1.3"/>
<text transform="translate(162.54,382.40) rotate(-45)" font-size="6.4" text-anchor="end" fill="#231f20" stroke="#231f20" stroke-width="0.1" textLength="21.16" lengthAdjust="spacingAndGlyphs">ZBTB7A</text>
<rect x="165.67" y="317.20" width="6.10" height="35.40" fill="#72a854" stroke="#5d8944" stroke-width="0.6"/>
<line x1="165.37" y1="340.0" x2="172.07" y2="340.0" stroke="#1a1a1a" stroke-width="1.3"/>
<text transform="translate(171.52,382.40) rotate(-45)" font-size="6.4" text-anchor="end" fill="#231f20" stroke="#231f20" stroke-width="0.1" textLength="18.36" lengthAdjust="spacingAndGlyphs">CSF3R</text>
<rect x="174.65" y="331.60" width="6.10" height="9.80" fill="#cbc3c7" stroke="#a69fa3" stroke-width="0.6"/>
<line x1="174.35" y1="341.1" x2="181.05" y2="341.1" stroke="#1a1a1a" stroke-width="1.3"/>
<rect x="176.70" y="361.90" width="2" height="2" fill="#111"/>
<text transform="translate(180.50,382.40) rotate(-45)" font-size="6.4" text-anchor="end" fill="#231f20" stroke="#231f20" stroke-width="0.1" textLength="19.29" lengthAdjust="spacingAndGlyphs">CCND1</text>
<rect x="183.63" y="330.70" width="6.10" height="30.80" fill="#465c80" stroke="#394b68" stroke-width="0.6"/>
<line x1="183.33" y1="341.3" x2="190.03" y2="341.3" stroke="#1a1a1a" stroke-width="1.3"/>
<text transform="translate(189.48,382.40) rotate(-45)" font-size="6.4" text-anchor="end" fill="#231f20" stroke="#231f20" stroke-width="0.1" textLength="17.43" lengthAdjust="spacingAndGlyphs">ASXL2</text>
<rect x="192.61" y="329.30" width="6.10" height="28.10" fill="#465c80" stroke="#394b68" stroke-width="0.6"/>
<line x1="192.31" y1="342.7" x2="199.01" y2="342.7" stroke="#1a1a1a" stroke-width="1.3"/>
<text transform="translate(198.46,382.40) rotate(-45)" font-size="6.4" text-anchor="end" fill="#231f20" stroke="#231f20" stroke-width="0.1" textLength="14.31" lengthAdjust="spacingAndGlyphs">EZH2</text>
<rect x="201.59" y="336.50" width="6.10" height="21.80" fill="#465c80" stroke="#394b68" stroke-width="0.6"/>
<line x1="201.29" y1="343.4" x2="207.99" y2="343.4" stroke="#1a1a1a" stroke-width="1.3"/>
<text transform="translate(207.44,382.40) rotate(-45)" font-size="6.4" text-anchor="end" fill="#231f20" stroke="#231f20" stroke-width="0.1" textLength="17.43" lengthAdjust="spacingAndGlyphs">ASXL1</text>
<rect x="210.57" y="333.20" width="6.10" height="34.10" fill="#465c80" stroke="#394b68" stroke-width="0.6"/>
<line x1="210.27" y1="344.6" x2="216.97" y2="344.6" stroke="#1a1a1a" stroke-width="1.3"/>
<text transform="translate(216.42,382.40) rotate(-45)" font-size="6.4" text-anchor="end" fill="#231f20" stroke="#231f20" stroke-width="0.1" textLength="19.29" lengthAdjust="spacingAndGlyphs">KDM6A</text>
<rect x="219.55" y="336.40" width="6.10" height="15.00" fill="#e0953a" stroke="#b77a2f" stroke-width="0.6"/>
<line x1="219.25" y1="345.4" x2="225.95" y2="345.4" stroke="#1a1a1a" stroke-width="1.3"/>
<text transform="translate(225.40,382.40) rotate(-45)" font-size="6.4" text-anchor="end" fill="#231f20" stroke="#231f20" stroke-width="0.1" textLength="18.05" lengthAdjust="spacingAndGlyphs">SRSF2</text>
<rect x="228.53" y="335.50" width="6.10" height="20.90" fill="#a33446" stroke="#852a39" stroke-width="0.6"/>
<line x1="228.23" y1="346.3" x2="234.93" y2="346.3" stroke="#1a1a1a" stroke-width="1.3"/>
<text transform="translate(234.38,382.40) rotate(-45)" font-size="6.4" text-anchor="end" fill="#231f20" stroke="#231f20" stroke-width="0.1" textLength="15.56" lengthAdjust="spacingAndGlyphs">SMC3</text>
<rect x="237.51" y="329.30" width="6.10" height="35.20" fill="#72a854" stroke="#5d8944" stroke-width="0.6"/>
<line x1="237.21" y1="348.4" x2="243.91" y2="348.4" stroke="#1a1a1a" stroke-width="1.3"/>
<text transform="translate(243.36,382.40) rotate(-45)" font-size="6.4" text-anchor="end" fill="#231f20" stroke="#231f20" stroke-width="0.1" textLength="13.38" lengthAdjust="spacingAndGlyphs">JAK2</text>
<rect x="246.49" y="339.60" width="6.10" height="19.90" fill="#6e5234" stroke="#5a432a" stroke-width="0.6"/>
<line x1="246.19" y1="348.7" x2="252.89" y2="348.7" stroke="#1a1a1a" stroke-width="1.3"/>
<text transform="translate(252.34,382.40) rotate(-45)" font-size="6.4" text-anchor="end" fill="#231f20" stroke="#231f20" stroke-width="0.1" textLength="18.67" lengthAdjust="spacingAndGlyphs">KMT2A</text>
<rect x="255.47" y="325.30" width="6.10" height="42.00" fill="#6fa8d8" stroke="#5b89b1" stroke-width="0.6"/>
<line x1="255.17" y1="349.8" x2="261.87" y2="349.8" stroke="#1a1a1a" stroke-width="1.3"/>
<text transform="translate(261.32,382.40) rotate(-45)" font-size="6.4" text-anchor="end" fill="#231f20" stroke="#231f20" stroke-width="0.1" textLength="18.98" lengthAdjust="spacingAndGlyphs">RUNX1</text>
<rect x="264.45" y="333.40" width="6.10" height="30.70" fill="#72a854" stroke="#5d8944" stroke-width="0.6"/>
<line x1="264.15" y1="352.4" x2="270.85" y2="352.4" stroke="#1a1a1a" stroke-width="1.3"/>
<text transform="translate(270.30,382.40) rotate(-45)" font-size="6.4" text-anchor="end" fill="#231f20" stroke="#231f20" stroke-width="0.1" textLength="8.71" lengthAdjust="spacingAndGlyphs">KIT</text>
<rect x="273.43" y="340.30" width="6.10" height="23.00" fill="#6fa8d8" stroke="#5b89b1" stroke-width="0.6"/>
<line x1="273.13" y1="352.4" x2="279.83" y2="352.4" stroke="#1a1a1a" stroke-width="1.3"/>
<text transform="translate(279.28,382.40) rotate(-45)" font-size="6.4" text-anchor="end" fill="#231f20" stroke="#231f20" stroke-width="0.1" textLength="17.53" lengthAdjust="spacingAndGlyphs">GATA2</text>
<rect x="282.41" y="336.30" width="6.10" height="27.80" fill="#72a854" stroke="#5d8944" stroke-width="0.6"/>
<line x1="282.11" y1="353.4" x2="288.81" y2="353.4" stroke="#1a1a1a" stroke-width="1.3"/>
<text transform="translate(288.26,382.40) rotate(-45)" font-size="6.4" text-anchor="end" fill="#231f20" stroke="#231f20" stroke-width="0.1" textLength="15.25" lengthAdjust="spacingAndGlyphs">KRAS</text>
<rect x="291.39" y="342.00" width="6.10" height="17.20" fill="#6fa8d8" stroke="#5b89b1" stroke-width="0.6"/>
<line x1="291.09" y1="356.3" x2="297.79" y2="356.3" stroke="#1a1a1a" stroke-width="1.3"/>
<text transform="translate(297.24,382.40) rotate(-45)" font-size="6.4" text-anchor="end" fill="#231f20" stroke="#231f20" stroke-width="0.1" textLength="14.01" lengthAdjust="spacingAndGlyphs">ETV6</text>
<rect x="300.37" y="334.80" width="6.10" height="29.50" fill="#a33446" stroke="#852a39" stroke-width="0.6"/>
<line x1="300.07" y1="357.7" x2="306.77" y2="357.7" stroke="#1a1a1a" stroke-width="1.3"/>
<text transform="translate(306.22,382.40) rotate(-45)" font-size="6.4" text-anchor="end" fill="#231f20" stroke="#231f20" stroke-width="0.1" textLength="18.05" lengthAdjust="spacingAndGlyphs">RAD21</text>
<rect x="309.35" y="331.50" width="6.10" height="36.80" fill="#72a854" stroke="#5d8944" stroke-width="0.6"/>
<line x1="309.05" y1="358.3" x2="315.75" y2="358.3" stroke="#1a1a1a" stroke-width="1.3"/>
<text transform="translate(315.20,382.40) rotate(-45)" font-size="6.4" text-anchor="end" fill="#231f20" stroke="#231f20" stroke-width="0.1" textLength="15.56" lengthAdjust="spacingAndGlyphs">NRAS</text>
<rect x="318.33" y="339.30" width="6.10" height="28.50" fill="#72a854" stroke="#5d8944" stroke-width="0.6"/>
<line x1="318.03" y1="363.8" x2="324.73" y2="363.8" stroke="#1a1a1a" stroke-width="1.3"/>
<text transform="translate(324.18,382.40) rotate(-45)" font-size="6.4" text-anchor="end" fill="#231f20" stroke="#231f20" stroke-width="0.1" textLength="12.65" lengthAdjust="spacingAndGlyphs">FLT3</text>
<rect x="327.31" y="341.80" width="6.10" height="26.00" fill="#465c80" stroke="#394b68" stroke-width="0.6"/>
<line x1="327.01" y1="365.8" x2="333.71" y2="365.8" stroke="#1a1a1a" stroke-width="1.3"/>
<text transform="translate(333.16,382.40) rotate(-45)" font-size="6.4" text-anchor="end" fill="#231f20" stroke="#231f20" stroke-width="0.1" textLength="22.41" lengthAdjust="spacingAndGlyphs">BCORL1</text>
<rect x="336.29" y="334.70" width="6.10" height="33.60" fill="#a33446" stroke="#852a39" stroke-width="0.6"/>
<line x1="335.99" y1="366.7" x2="342.69" y2="366.7" stroke="#1a1a1a" stroke-width="1.3"/>
<text transform="translate(342.14,382.40) rotate(-45)" font-size="6.4" text-anchor="end" fill="#231f20" stroke="#231f20" stroke-width="0.1" textLength="17.95" lengthAdjust="spacingAndGlyphs">STAG2</text>
<rect x="345.27" y="352.20" width="6.10" height="16.70" fill="#465c80" stroke="#394b68" stroke-width="0.6"/>
<line x1="344.97" y1="367.5" x2="351.67" y2="367.5" stroke="#1a1a1a" stroke-width="1.3"/>
<text transform="translate(351.12,382.40) rotate(-45)" font-size="6.4" text-anchor="end" fill="#231f20" stroke="#231f20" stroke-width="0.1" textLength="16.18" lengthAdjust="spacingAndGlyphs">BCOR</text>
<line x1="37.6" y1="257.0" x2="37.6" y2="377.2" stroke="#231f20" stroke-width="1.2"/>
<line x1="37" y1="376.6" x2="353.6" y2="376.6" stroke="#231f20" stroke-width="1.3"/>
<line x1="34.2" y1="260.8" x2="37.6" y2="260.8" stroke="#231f20" stroke-width="1"/>
<text x="31.60" y="263.20" font-size="6.8" text-anchor="end" fill="#333" stroke="#333" stroke-width="0.11"  textLength="11.20" lengthAdjust="spacingAndGlyphs">1.00</text>
<line x1="34.2" y1="289.75" x2="37.6" y2="289.75" stroke="#231f20" stroke-width="1"/>
<text x="31.60" y="292.15" font-size="6.8" text-anchor="end" fill="#333" stroke="#333" stroke-width="0.11"  textLength="11.20" lengthAdjust="spacingAndGlyphs">0.75</text>
<line x1="34.2" y1="318.7" x2="37.6" y2="318.7" stroke="#231f20" stroke-width="1"/>
<text x="31.60" y="321.10" font-size="6.8" text-anchor="end" fill="#333" stroke="#333" stroke-width="0.11"  textLength="11.20" lengthAdjust="spacingAndGlyphs">0.50</text>
<line x1="34.2" y1="347.65" x2="37.6" y2="347.65" stroke="#231f20" stroke-width="1"/>
<text x="31.60" y="350.05" font-size="6.8" text-anchor="end" fill="#333" stroke="#333" stroke-width="0.11"  textLength="11.20" lengthAdjust="spacingAndGlyphs">0.25</text>
<line x1="34.2" y1="376.6" x2="37.6" y2="376.6" stroke="#231f20" stroke-width="1"/>
<text x="31.60" y="379.00" font-size="6.8" text-anchor="end" fill="#333" stroke="#333" stroke-width="0.11"  textLength="11.20" lengthAdjust="spacingAndGlyphs">0.00</text>
<text transform="translate(14.3,316.85) rotate(-90)" font-size="8.5" text-anchor="middle" fill="#231f20" stroke="#231f20" stroke-width="0.15" textLength="83.5" lengthAdjust="spacingAndGlyphs">Variant allele frequency</text>
<text x="186.00" y="410.80" font-size="9.3" text-anchor="start" fill="#231f20" stroke="#231f20" stroke-width="0.11"  textLength="19.20" lengthAdjust="spacingAndGlyphs">Gene</text>
<line x1="78.5" y1="421.0" x2="78.5" y2="427.4" stroke="#333" stroke-width="0.8"/>
<rect x="75.9" y="422.59999999999997" width="5.2" height="3.2" fill="#cbc3c7"/>
<line x1="75.9" y1="424.2" x2="81.1" y2="424.2" stroke="#111" stroke-width="0.8"/>
<text x="84.30" y="426.10" font-size="5.3" text-anchor="start" fill="#231f20" stroke="#231f20" stroke-width="0.11"  textLength="21.10" lengthAdjust="spacingAndGlyphs">Cell Cycle</text>
<line x1="78.5" y1="427.6" x2="78.5" y2="434.0" stroke="#333" stroke-width="0.8"/>
<rect x="75.9" y="429.2" width="5.2" height="3.2" fill="#465c80"/>
<line x1="75.9" y1="430.8" x2="81.1" y2="430.8" stroke="#111" stroke-width="0.8"/>
<text x="84.30" y="432.70" font-size="5.3" text-anchor="start" fill="#231f20" stroke="#231f20" stroke-width="0.11"  textLength="50.30" lengthAdjust="spacingAndGlyphs">Chromatin remodeling</text>
<line x1="148.1" y1="421.0" x2="148.1" y2="427.4" stroke="#333" stroke-width="0.8"/>
<rect x="145.5" y="422.59999999999997" width="5.2" height="3.2" fill="#a33446"/>
<line x1="145.5" y1="424.2" x2="150.7" y2="424.2" stroke="#111" stroke-width="0.8"/>
<text x="153.90" y="426.10" font-size="5.3" text-anchor="start" fill="#231f20" stroke="#231f20" stroke-width="0.11"  textLength="38.40" lengthAdjust="spacingAndGlyphs">Cohesin complex</text>
<line x1="148.1" y1="427.6" x2="148.1" y2="434.0" stroke="#333" stroke-width="0.8"/>
<rect x="145.5" y="429.2" width="5.2" height="3.2" fill="#6e5234"/>
<line x1="145.5" y1="430.8" x2="150.7" y2="430.8" stroke="#111" stroke-width="0.8"/>
<text x="153.90" y="432.70" font-size="5.3" text-anchor="start" fill="#231f20" stroke="#231f20" stroke-width="0.11"  textLength="38.40" lengthAdjust="spacingAndGlyphs">DNA methylation</text>
<line x1="205.8" y1="421.0" x2="205.8" y2="427.4" stroke="#333" stroke-width="0.8"/>
<rect x="203.20000000000002" y="422.59999999999997" width="5.2" height="3.2" fill="#eab83e"/>
<line x1="203.20000000000002" y1="424.2" x2="208.4" y2="424.2" stroke="#111" stroke-width="0.8"/>
<text x="211.60" y="426.10" font-size="5.3" text-anchor="start" fill="#231f20" stroke="#231f20" stroke-width="0.11"  textLength="27.70" lengthAdjust="spacingAndGlyphs">Other genes</text>
<line x1="205.8" y1="427.6" x2="205.8" y2="434.0" stroke="#333" stroke-width="0.8"/>
<rect x="203.20000000000002" y="429.2" width="5.2" height="3.2" fill="#e0953a"/>
<line x1="203.20000000000002" y1="430.8" x2="208.4" y2="430.8" stroke="#111" stroke-width="0.8"/>
<text x="211.60" y="432.70" font-size="5.3" text-anchor="start" fill="#231f20" stroke="#231f20" stroke-width="0.11"  textLength="18.50" lengthAdjust="spacingAndGlyphs">Splicing</text>
<line x1="249.7" y1="421.0" x2="249.7" y2="427.4" stroke="#333" stroke-width="0.8"/>
<rect x="247.1" y="422.59999999999997" width="5.2" height="3.2" fill="#6fa8d8"/>
<line x1="247.1" y1="424.2" x2="252.29999999999998" y2="424.2" stroke="#111" stroke-width="0.8"/>
<text x="255.50" y="426.10" font-size="5.3" text-anchor="start" fill="#231f20" stroke="#231f20" stroke-width="0.11"  textLength="53.10" lengthAdjust="spacingAndGlyphs">Transcription regulators</text>
<line x1="249.7" y1="427.6" x2="249.7" y2="434.0" stroke="#333" stroke-width="0.8"/>
<rect x="247.1" y="429.2" width="5.2" height="3.2" fill="#72a854"/>
<line x1="247.1" y1="430.8" x2="252.29999999999998" y2="430.8" stroke="#111" stroke-width="0.8"/>
<text x="255.50" y="432.70" font-size="5.3" text-anchor="start" fill="#231f20" stroke="#231f20" stroke-width="0.11"  textLength="55.40" lengthAdjust="spacingAndGlyphs">Tyrosine Kinase signaling</text>
<text x="370.00" y="251.90" font-size="10.8" text-anchor="start" fill="#231f20" stroke="#231f20" stroke-width="0.11" style="stroke-width:0.02">C</text>
<text x="420.40" y="271.20" font-size="7.9" text-anchor="start" fill="#231f20" stroke="#231f20" stroke-width="0.11" style="stroke-width:0.2" textLength="69.20" lengthAdjust="spacingAndGlyphs">KIT mutations (n=113)</text>
<path d="M450.0,350.2 L450.00,301.90 A48.3,48.3 0 0 1 458.64,397.72 Z" fill="#a33446" stroke="#1e1e1e" stroke-width="0.8" stroke-linejoin="round"/>
<path d="M450.0,350.2 L458.64,397.72 A48.3,48.3 0 0 1 404.36,366.00 Z" fill="#eab83e" stroke="#1e1e1e" stroke-width="0.8" stroke-linejoin="round"/>
<path d="M450.0,350.2 L404.36,366.00 A48.3,48.3 0 0 1 402.08,356.25 Z" fill="#72a854" stroke="#1e1e1e" stroke-width="0.8" stroke-linejoin="round"/>
<path d="M450.0,350.2 L402.08,356.25 A48.3,48.3 0 0 1 401.70,350.62 Z" fill="#e0953a" stroke="#1e1e1e" stroke-width="0.8" stroke-linejoin="round"/>
<path d="M450.0,350.2 L401.70,350.62 A48.3,48.3 0 0 1 418.82,313.31 Z" fill="#6e5234" stroke="#1e1e1e" stroke-width="0.8" stroke-linejoin="round"/>
<path d="M450.0,350.2 L418.82,313.31 A48.3,48.3 0 0 1 420.76,311.75 Z" fill="#e4dbe2" stroke="#1e1e1e" stroke-width="0.8" stroke-linejoin="round"/>
<path d="M450.0,350.2 L420.76,311.75 A48.3,48.3 0 0 1 437.01,303.68 Z" fill="#6fa8d8" stroke="#1e1e1e" stroke-width="0.8" stroke-linejoin="round"/>
<path d="M450.0,350.2 L437.01,303.68 A48.3,48.3 0 0 1 450.00,301.90 Z" fill="#465c80" stroke="#1e1e1e" stroke-width="0.8" stroke-linejoin="round"/>
<path d="M450.26,299.80 A50.4,50.4 0 1 1 399.60,350.55" fill="none" stroke="#3a3a3a" stroke-width="1.0"/>
<line x1="472.9" y1="305.2" x2="478.8" y2="300.0" stroke="#111" stroke-width="1.0"/>
<line x1="445.2" y1="301.5" x2="450.4" y2="296.9" stroke="#888" stroke-width="0.7"/>
<line x1="427.7" y1="299.6" x2="428.7" y2="306.2" stroke="#888" stroke-width="0.7"/>
<line x1="411.5" y1="306.0" x2="418.7" y2="312.4" stroke="#777" stroke-width="0.7"/>
<line x1="397.2" y1="330.1" x2="405.1" y2="330.1" stroke="#888" stroke-width="0.7"/>
<line x1="393.2" y1="348.2" x2="399.5" y2="351.8" stroke="#888" stroke-width="0.7"/>
<line x1="396.4" y1="367.4" x2="400.4" y2="364.0" stroke="#888" stroke-width="0.7"/>
<text x="424.45" y="287.10" font-size="6.4" text-anchor="middle" fill="#231f20" stroke="#231f20" stroke-width="0.11"  textLength="20.30" lengthAdjust="spacingAndGlyphs">exon 11</text>
<text x="423.85" y="294.40" font-size="6.4" text-anchor="middle" fill="#231f20" stroke="#231f20" stroke-width="0.11"  textLength="8.70" lengthAdjust="spacingAndGlyphs">6%</text>
<text x="458.10" y="288.50" font-size="6.4" text-anchor="middle" fill="#231f20" stroke="#231f20" stroke-width="0.11"  textLength="31.20" lengthAdjust="spacingAndGlyphs">other exons</text>
<text x="458.15" y="295.80" font-size="6.4" text-anchor="middle" fill="#231f20" stroke="#231f20" stroke-width="0.11"  textLength="8.10" lengthAdjust="spacingAndGlyphs">4%</text>
<text x="488.70" y="294.40" font-size="6.4" text-anchor="middle" fill="#231f20" stroke="#231f20" stroke-width="0.11"  textLength="20.80" lengthAdjust="spacingAndGlyphs">exon 17</text>
<text x="488.75" y="301.80" font-size="6.4" text-anchor="middle" fill="#231f20" stroke="#231f20" stroke-width="0.11"  textLength="12.10" lengthAdjust="spacingAndGlyphs">77%</text>
<text x="394.00" y="301.60" font-size="6.4" text-anchor="middle" fill="#231f20" stroke="#231f20" stroke-width="0.11"  textLength="33.00" lengthAdjust="spacingAndGlyphs">exon 8 other</text>
<text x="393.80" y="308.80" font-size="6.4" text-anchor="middle" fill="#231f20" stroke="#231f20" stroke-width="0.11"  textLength="8.20" lengthAdjust="spacingAndGlyphs">1%</text>
<text x="385.35" y="318.60" font-size="6.4" text-anchor="middle" fill="#231f20" stroke="#231f20" stroke-width="0.11"  textLength="17.70" lengthAdjust="spacingAndGlyphs">exon 8</text>
<text x="384.45" y="326.00" font-size="6.4" text-anchor="middle" fill="#231f20" stroke="#231f20" stroke-width="0.11"  textLength="24.90" lengthAdjust="spacingAndGlyphs">416 - 419</text>
<text x="385.00" y="333.50" font-size="6.4" text-anchor="middle" fill="#231f20" stroke="#231f20" stroke-width="0.11"  textLength="11.40" lengthAdjust="spacingAndGlyphs">14%</text>
<text x="382.50" y="344.30" font-size="6.4" text-anchor="middle" fill="#231f20" stroke="#231f20" stroke-width="0.11"  textLength="20.80" lengthAdjust="spacingAndGlyphs">exon 17</text>
<text x="382.35" y="352.00" font-size="6.4" text-anchor="middle" fill="#231f20" stroke="#231f20" stroke-width="0.11"  textLength="14.30" lengthAdjust="spacingAndGlyphs">other</text>
<text x="382.55" y="359.80" font-size="6.4" text-anchor="middle" fill="#231f20" stroke="#231f20" stroke-width="0.11"  textLength="7.90" lengthAdjust="spacingAndGlyphs">2%</text>
<text x="384.70" y="370.60" font-size="6.4" text-anchor="middle" fill="#231f20" stroke="#231f20" stroke-width="0.11"  textLength="13.60" lengthAdjust="spacingAndGlyphs">D820</text>
<text x="384.70" y="378.80" font-size="6.4" text-anchor="middle" fill="#231f20" stroke="#231f20" stroke-width="0.11"  textLength="8.20" lengthAdjust="spacingAndGlyphs">3%</text>
<text x="430.80" y="376.80" font-size="6.2" text-anchor="middle" fill="#231f20" stroke="#231f20" stroke-width="0.11"  textLength="13.60" lengthAdjust="spacingAndGlyphs">N822</text>
<text x="431.40" y="384.50" font-size="6.2" text-anchor="middle" fill="#231f20" stroke="#231f20" stroke-width="0.11"  textLength="11.20" lengthAdjust="spacingAndGlyphs">23%</text>
<text x="468.65" y="343.10" font-size="6.3" text-anchor="middle" fill="#ffffff" stroke="#ffffff" stroke-width="0.11" stroke-opacity="0.3" textLength="14.30" lengthAdjust="spacingAndGlyphs">D816</text>
<text x="468.65" y="350.90" font-size="6.3" text-anchor="middle" fill="#ffffff" stroke="#ffffff" stroke-width="0.11" stroke-opacity="0.3" textLength="12.70" lengthAdjust="spacingAndGlyphs">47%</text>
<rect x="0" y="0" width="1" height="441" fill="#0d0d0d"/>
<rect x="1" y="2" width="1" height="437" fill="#e8e8e8"/>
<rect x="519" y="0" width="1" height="441" fill="#0d0d0d"/>
<rect x="1" y="439" width="518" height="1" fill="#e6e6e6"/>
<rect x="0" y="440" width="520" height="1" fill="#0d0d0d"/>
<rect x="0" y="0" width="519" height="1" fill="#505050"/>
<rect x="1" y="1" width="518" height="1" fill="#b0b0b0"/>
</svg>
</body></html>
